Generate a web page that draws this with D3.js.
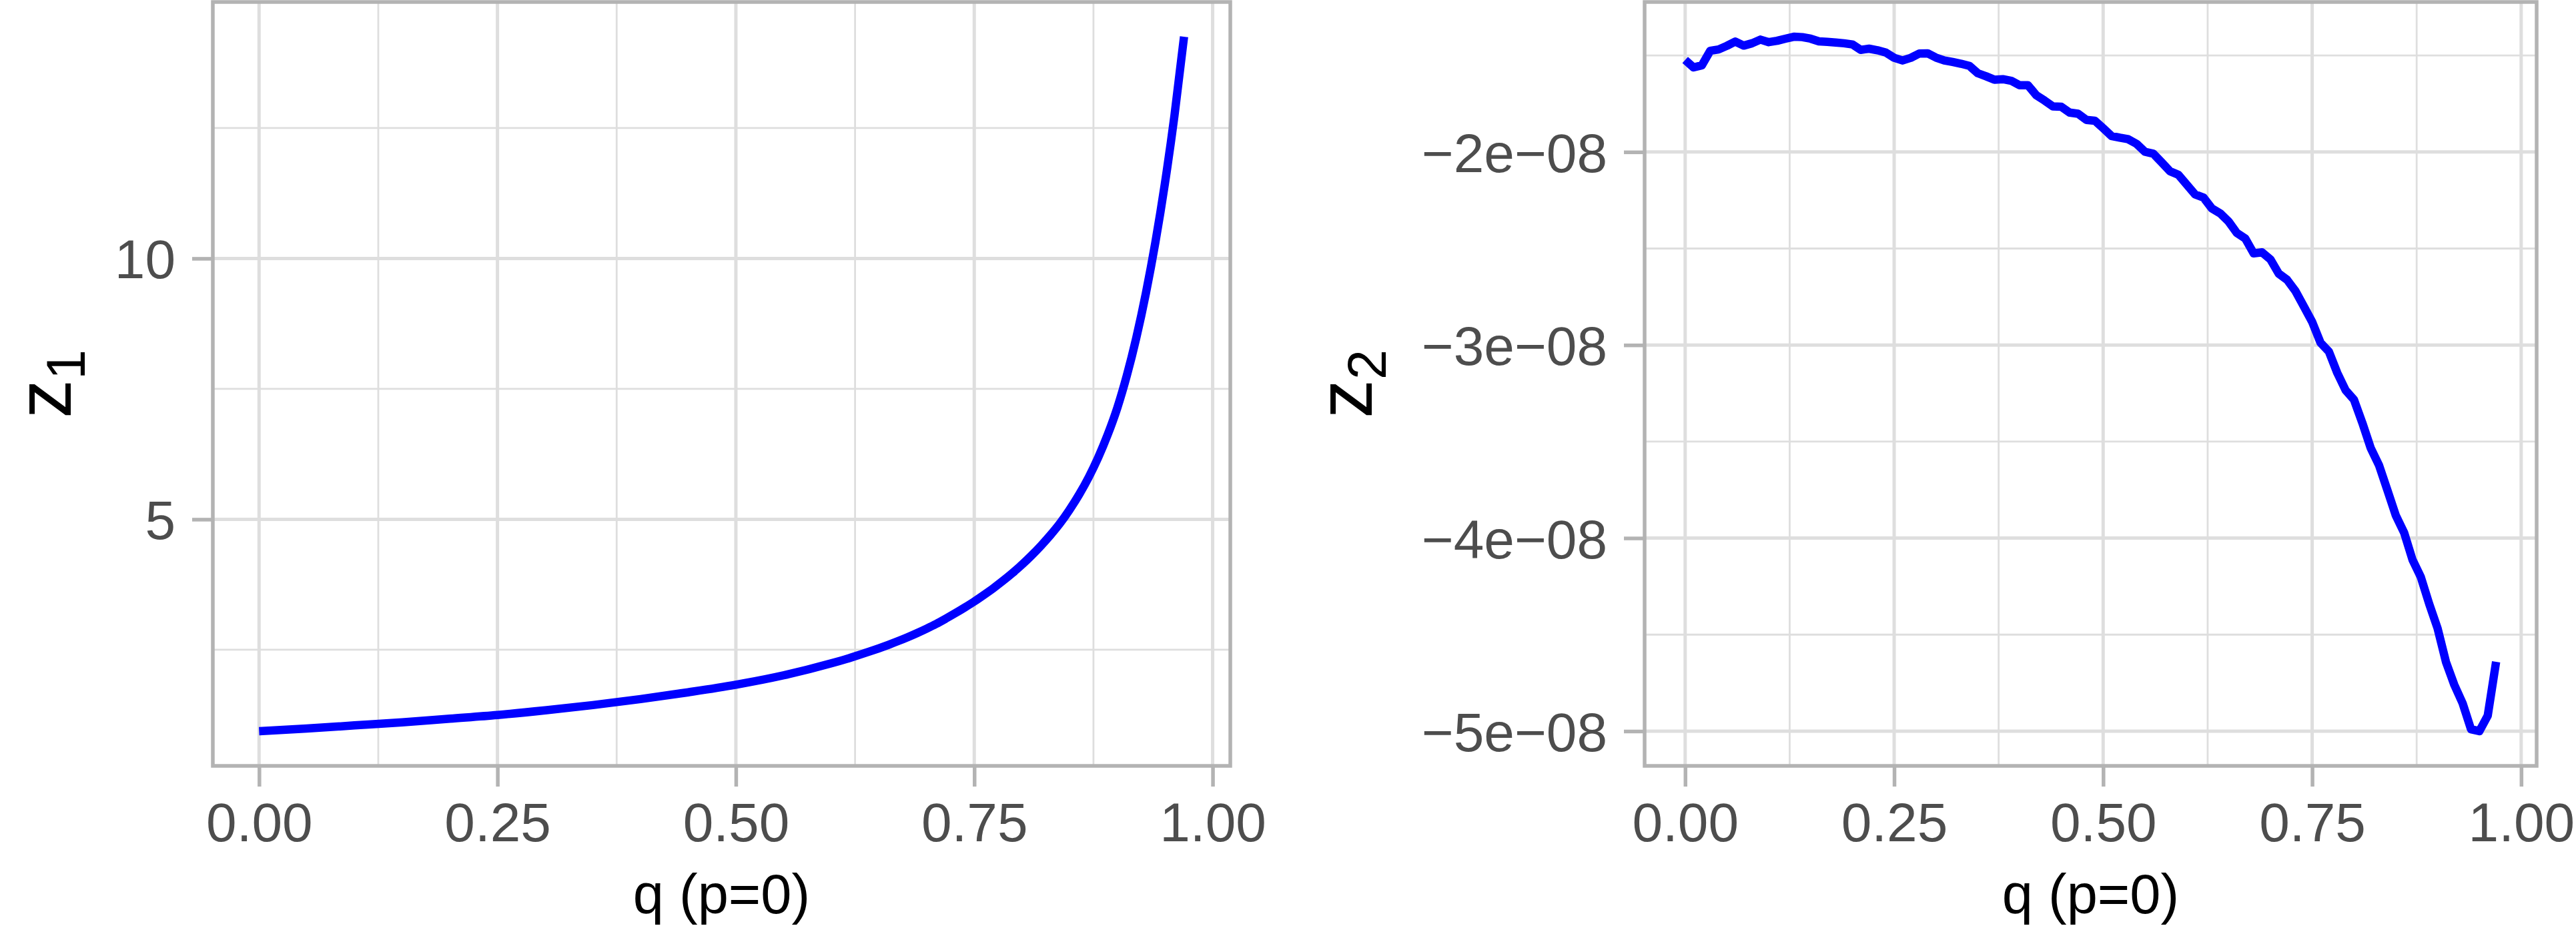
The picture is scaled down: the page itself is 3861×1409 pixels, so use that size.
<!DOCTYPE html>
<html>
<head>
<meta charset="utf-8">
<script src="https://cdn.jsdelivr.net/npm/d3@7"></script>
<style>
  html, body { margin: 0; padding: 0; background: #ffffff; }
  svg { display: block; }
</style>
</head>
<body>
<svg id="chart" width="3861" height="1409"></svg>
<script>
// ---------------- data ----------------
const qTicks = [0, 0.25, 0.5, 0.75, 1.0];
const qTickLabels = ["0.00", "0.25", "0.50", "0.75", "1.00"];
const qMinor = [0.125, 0.375, 0.625, 0.875];

const z1Ticks = [5, 10];
const z1TickLabels = ["5", "10"];
const z1Minor = [2.5, 7.5, 12.5];

const z2Ticks = [-5e-8, -4e-8, -3e-8, -2e-8];
const z2TickLabels = ["\u22125e\u221208", "\u22124e\u221208", "\u22123e\u221208", "\u22122e\u221208"];
const z2Minor = [-4.5e-8, -3.5e-8, -2.5e-8, -1.5e-8];

const z1Q = [0, 0.05, 0.10, 0.15, 0.20, 0.25, 0.30, 0.35, 0.40, 0.45, 0.50, 0.55, 0.60,
             0.62, 0.64, 0.66, 0.67, 0.68, 0.69,
             0.70, 0.71, 0.72, 0.73, 0.74, 0.75, 0.76, 0.77, 0.78, 0.79,
             0.80, 0.81, 0.82, 0.83, 0.84, 0.85, 0.86, 0.87, 0.88, 0.89,
             0.90, 0.91, 0.92, 0.93, 0.94, 0.95, 0.96, 0.97];
const z1Values = [0.94, 0.99, 1.05, 1.11, 1.18, 1.25, 1.34, 1.44, 1.555, 1.685, 1.83, 2.01, 2.24,
                  2.347, 2.465, 2.595, 2.665, 2.74, 2.82,
                  2.905, 2.995, 3.095, 3.20, 3.31, 3.425, 3.55, 3.68, 3.82, 3.97,
                  4.13, 4.305, 4.495, 4.70, 4.925, 5.185, 5.475, 5.805, 6.185, 6.625,
                  7.135, 7.755, 8.485, 9.335, 10.315, 11.445, 12.745, 14.25];

const z2Q = [0.00, 0.01, 0.02, 0.03, 0.04, 0.05, 0.06, 0.07, 0.08, 0.09,
             0.10, 0.11, 0.12, 0.13, 0.14, 0.15, 0.16, 0.17, 0.18, 0.19,
             0.20, 0.21, 0.22, 0.23, 0.24, 0.25, 0.26, 0.27, 0.28, 0.29,
             0.30, 0.31, 0.32, 0.33, 0.34, 0.35, 0.36, 0.37, 0.38, 0.39,
             0.40, 0.41, 0.42, 0.43, 0.44, 0.45, 0.46, 0.47, 0.48, 0.49,
             0.50, 0.51, 0.52, 0.53, 0.54, 0.55, 0.56, 0.57, 0.58, 0.59,
             0.60, 0.61, 0.62, 0.63, 0.64, 0.65, 0.66, 0.67, 0.68, 0.69,
             0.70, 0.71, 0.72, 0.73, 0.74, 0.75, 0.76, 0.77, 0.78, 0.79,
             0.80, 0.81, 0.82, 0.83, 0.84, 0.85, 0.86, 0.87, 0.88, 0.89,
             0.90, 0.91, 0.92, 0.93, 0.94, 0.95, 0.96, 0.97];
// z2 values in units of 1e-8
const z2Mantissa = [-1.523, -1.562, -1.551, -1.476, -1.469, -1.450, -1.428, -1.449, -1.437, -1.418,
                    -1.431, -1.424, -1.413, -1.403, -1.405, -1.413, -1.427, -1.430, -1.433, -1.437,
                    -1.443, -1.471, -1.465, -1.473, -1.485, -1.512, -1.526, -1.512, -1.490, -1.489,
                    -1.511, -1.526, -1.534, -1.543, -1.554, -1.592, -1.608, -1.626, -1.623, -1.631,
                    -1.654, -1.654, -1.706, -1.734, -1.764, -1.766, -1.796, -1.802, -1.834, -1.838,
                    -1.877, -1.917, -1.926, -1.934, -1.958, -1.999, -2.009, -2.054, -2.100, -2.118,
                    -2.169, -2.220, -2.236, -2.292, -2.318, -2.360, -2.420, -2.448, -2.525, -2.520,
                    -2.556, -2.630, -2.662, -2.720, -2.800, -2.880, -2.988, -3.034, -3.144, -3.234,
                    -3.283, -3.403, -3.533, -3.623, -3.752, -3.882, -3.972, -4.112, -4.202, -4.341,
                    -4.467, -4.641, -4.760, -4.856, -4.990, -5.000, -4.920, -4.641];
const z2Scale = 1e-8;
const z2Values = z2Mantissa.map(v => v * z2Scale);

const xTitle = "q (p=0)";

// ---------------- layout / style ----------------
const FONT = "'Liberation Sans', Arial, Helvetica, sans-serif";
const TOP = 3, BOTTOM = 1148;
const COL_BORDER = "#B3B3B3", COL_GRID = "#DEDEDE", COL_TEXT = "#4D4D4D";

const svg = d3.select("#chart");
svg.append("rect").attr("width", 3861).attr("height", 1409).attr("fill", "#ffffff");

function expand(ext) {
  const r = ext[1] - ext[0];
  return [ext[0] - 0.05 * r, ext[1] + 0.05 * r];
}

function drawPanel(cfg) {
  const g = svg.append("g");
  const x = d3.scaleLinear().domain(expand(d3.extent(cfg.q))).range([cfg.left, cfg.right]);
  const y = d3.scaleLinear().domain(expand(d3.extent(cfg.v))).range([BOTTOM, TOP]);
  const inX = d => d >= x.domain()[0] && d <= x.domain()[1];
  const inY = d => d >= y.domain()[0] && d <= y.domain()[1];

  // minor grid
  g.append("g").selectAll("line").data(qMinor.filter(inX)).join("line")
    .attr("x1", d => x(d)).attr("x2", d => x(d)).attr("y1", TOP).attr("y2", BOTTOM)
    .attr("stroke", COL_GRID).attr("stroke-width", 2.8);
  g.append("g").selectAll("line").data(cfg.minor.filter(inY)).join("line")
    .attr("y1", d => y(d)).attr("y2", d => y(d)).attr("x1", cfg.left).attr("x2", cfg.right)
    .attr("stroke", COL_GRID).attr("stroke-width", 2.8);
  // major grid
  g.append("g").selectAll("line").data(qTicks.filter(inX)).join("line")
    .attr("x1", d => x(d)).attr("x2", d => x(d)).attr("y1", TOP).attr("y2", BOTTOM)
    .attr("stroke", COL_GRID).attr("stroke-width", 5);
  g.append("g").selectAll("line").data(cfg.ticks.filter(inY)).join("line")
    .attr("y1", d => y(d)).attr("y2", d => y(d)).attr("x1", cfg.left).attr("x2", cfg.right)
    .attr("stroke", COL_GRID).attr("stroke-width", 5);

  // data line
  g.append("path")
    .datum(d3.zip(cfg.q, cfg.v))
    .attr("d", d3.line().x(d => x(d[0])).y(d => y(d[1])).curve(cfg.curve))
    .attr("fill", "none").attr("stroke", "#0000FF").attr("stroke-width", 12.5)
    .attr("stroke-linejoin", "round").attr("stroke-linecap", "butt");

  // panel border
  g.append("rect")
    .attr("x", cfg.left).attr("y", TOP)
    .attr("width", cfg.right - cfg.left).attr("height", BOTTOM - TOP)
    .attr("fill", "none").attr("stroke", COL_BORDER).attr("stroke-width", 5.5);

  // axes
  const xAxis = d3.axisBottom(x).tickValues(qTicks).tickFormat((d, i) => qTickLabels[i])
    .tickSize(31).tickPadding(24);
  const gx = g.append("g").attr("transform", `translate(0,${BOTTOM})`).call(xAxis);
  const yAxis = d3.axisLeft(y).tickValues(cfg.ticks).tickFormat((d, i) => cfg.tickLabels[i])
    .tickSize(31).tickPadding(25);
  const gy = g.append("g").attr("transform", `translate(${cfg.left},0)`).call(yAxis);
  [gx, gy].forEach(a => {
    a.select(".domain").remove();
    a.selectAll(".tick line").attr("stroke", COL_BORDER).attr("stroke-width", 5.5);
    a.selectAll(".tick text").attr("fill", COL_TEXT).attr("font-size", 82).attr("font-family", FONT);
  });
  gy.selectAll(".tick text").attr("dy", "0.36em");

  // x title
  svg.append("text")
    .attr("x", (cfg.left + cfg.right) / 2).attr("y", 1369)
    .attr("text-anchor", "middle").attr("font-family", FONT).attr("font-size", 83)
    .attr("fill", "#000000").text(xTitle);

  // y title z with subscript
  const t = svg.append("text")
    .attr("transform", `translate(${cfg.yTitleX},${(TOP + BOTTOM) / 2}) rotate(-90)`)
    .attr("text-anchor", "middle").attr("font-family", FONT).attr("fill", "#000000")
    .attr("font-size", 116);
  t.append("tspan").text("z");
  t.append("tspan").attr("font-size", 81).attr("dy", 21).text(cfg.sub);
}

drawPanel({
  q: z1Q, v: z1Values, left: 319, right: 1844,
  ticks: z1Ticks, tickLabels: z1TickLabels, minor: z1Minor,
  curve: d3.curveMonotoneX, yTitleX: 106, sub: "1"
});
drawPanel({
  q: z2Q, v: z2Values, left: 2465, right: 3802,
  ticks: z2Ticks, tickLabels: z2TickLabels, minor: z2Minor,
  curve: d3.curveLinear, yTitleX: 2056, sub: "2"
});
</script>
</body>
</html>
